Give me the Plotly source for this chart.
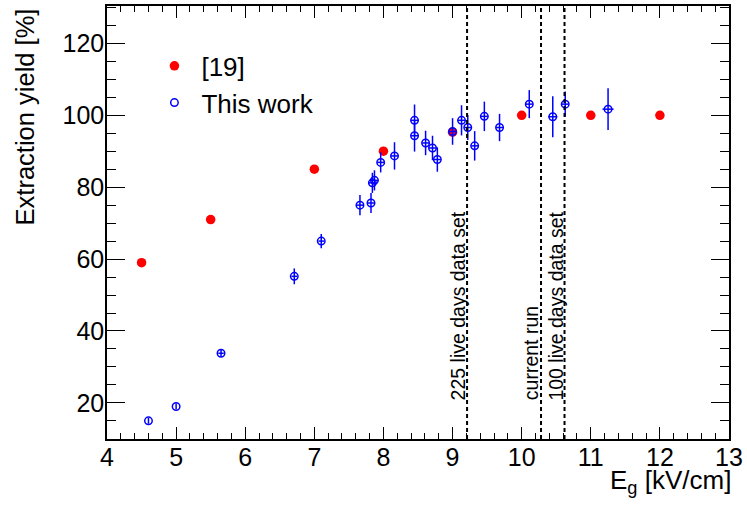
import plotly.graph_objects as go

# ---- data ----
ref_x = [4.5, 5.5, 7.0, 8.0, 9.0, 10.0, 11.0, 12.0]
ref_y = [59.0, 71.0, 85.0, 90.0, 95.3, 100.0, 100.0, 100.0]

work_x = [4.60, 5.00, 5.65, 6.71, 7.10, 7.66, 7.82, 7.84, 7.87, 7.96, 8.16, 8.45, 8.45,
          8.61, 8.71, 8.78, 9.00, 9.13, 9.22, 9.32, 9.46, 9.68, 10.11, 10.45, 10.63, 11.25]
work_y = [15.0, 19.0, 33.8, 55.2, 65.0, 75.0, 75.6, 81.2, 81.9, 86.9, 88.7, 98.6, 94.3,
          92.3, 90.9, 87.7, 95.5, 98.6, 96.6, 91.5, 99.7, 96.6, 103.1, 99.6, 103.1, 101.7]
work_yerr = [0.8, 0.8, 1.0, 2.2, 2.0, 2.8, 2.8, 2.8, 2.8, 2.8, 3.8, 4.4, 4.4,
             3.4, 3.4, 3.4, 3.7, 4.2, 3.5, 4.1, 4.1, 3.8, 3.9, 5.7, 3.5, 5.8]
work_xerr = [0.0, 0.0, 0.04, 0.04, 0.04, 0.05, 0.05, 0.05, 0.05, 0.05, 0.05, 0.05, 0.05,
             0.05, 0.05, 0.05, 0.05, 0.05, 0.05, 0.05, 0.05, 0.05, 0.05, 0.065, 0.05, 0.08]

line_x = [9.21, 10.28, 10.62]
label_x = [9.075, 10.135, 10.496]
label_text = ["225 live days data set", "current run", "100 live days data set"]
label_y = 20.2

x_ticks = list(range(4, 14))
y_ticks = [20, 40, 60, 80, 100, 120]

FONT = "Liberation Sans, Arial, sans-serif"

fig = go.Figure()
fig.add_trace(go.Scatter(
    x=ref_x, y=ref_y, mode="markers", name="[19]",
    marker=dict(symbol="circle", size=9.5, color="#ff0000"),
))
fig.add_trace(go.Scatter(
    x=work_x, y=work_y, mode="markers", name="This work",
    marker=dict(symbol="circle-open", size=7.5, color="#0000ff", line=dict(width=1.5, color="#0000ff")),
    error_y=dict(type="data", array=work_yerr, visible=True, color="#0000ff", thickness=1.5, width=0),
    error_x=dict(type="data", array=work_xerr, visible=True, color="#0000ff", thickness=1.5, width=0),
))

shapes = []
for lx in line_x:
    shapes.append(dict(type="line", xref="x", yref="paper", x0=lx, x1=lx, y0=0, y1=1,
                       line=dict(color="black", width=2, dash="4px,3px")))

annotations = []
for lx, txt in zip(label_x, label_text):
    annotations.append(dict(x=lx, y=label_y, xref="x", yref="y", text=txt, showarrow=False,
                            textangle=-90, xanchor="center", yanchor="bottom",
                            font=dict(family=FONT, size=19.5, color="black")))
annotations.append(dict(x=-0.132, y=1.0, xref="paper", yref="paper", text="Extraction yield [%]",
                        showarrow=False, textangle=-90, xanchor="center", yanchor="top",
                        font=dict(family=FONT, size=25.5, color="black")))
annotations.append(dict(x=1.0064, y=-0.099, xref="paper", yref="paper",
                        text="E<sub>g</sub> [kV/cm]", showarrow=False,
                        xanchor="right", yanchor="middle",
                        font=dict(family=FONT, size=26, color="black")))

axis_common = dict(showline=True, linecolor="black", linewidth=1.5, mirror="ticks",
                   ticks="inside", tickcolor="black", tickwidth=1, showgrid=False,
                   zeroline=False, tickfont=dict(family=FONT, size=25, color="black"))

fig.update_layout(
    width=747, height=505,
    margin=dict(l=107, r=17, t=4, b=66),
    paper_bgcolor="white", plot_bgcolor="white",
    showlegend=True,
    legend=dict(x=0.065, y=0.916, xanchor="left", yanchor="top", bgcolor="rgba(0,0,0,0)",
                font=dict(family=FONT, size=26, color="black"), itemwidth=44),
    xaxis=dict(range=[4, 13], tickvals=x_ticks, ticklen=12, ticklabelstandoff=-5,
               minor=dict(dtick=0.2, ticklen=6.5, ticks="inside", tickcolor="black", tickwidth=1),
               **axis_common),
    yaxis=dict(range=[9.95, 130.4], tickvals=y_ticks, ticklen=18.5, ticklabelstandoff=-4,
               minor=dict(tick0=0, dtick=5, ticklen=9.4, ticks="inside", tickcolor="black", tickwidth=1),
               **axis_common),
    shapes=shapes,
    annotations=annotations,
)

fig.write_html("out.html", config={"displayModeBar": False},
               post_script="document.body.style.margin='0';document.body.style.overflow='hidden';")
